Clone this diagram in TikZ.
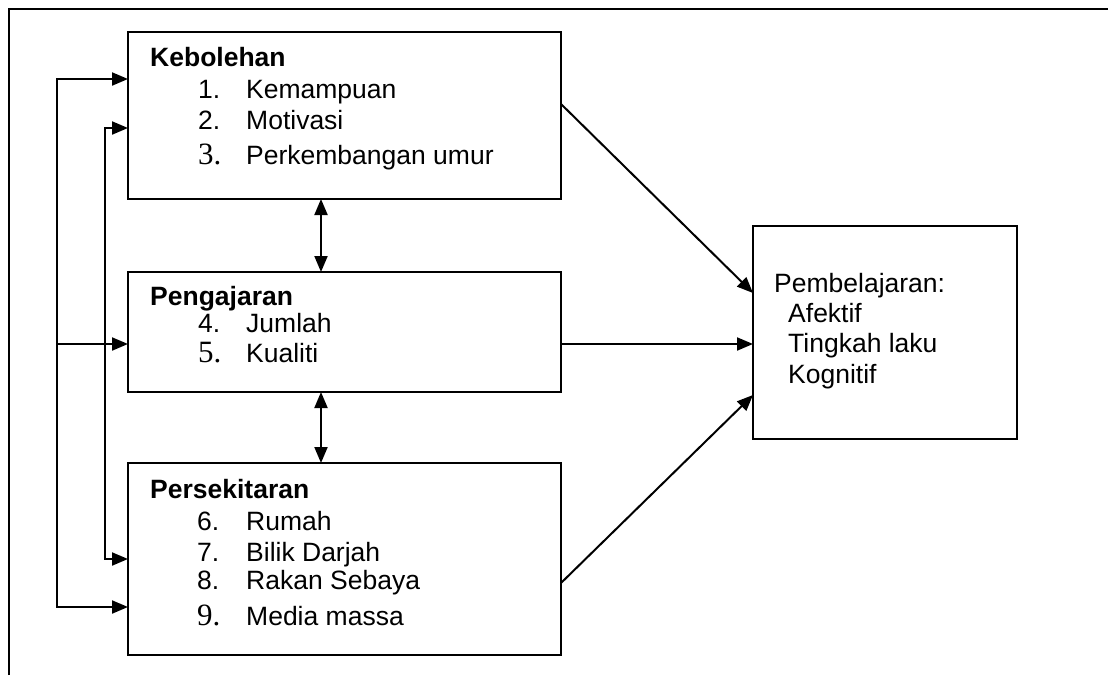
\documentclass[tikz,border=0pt]{standalone}
\usepackage{fontspec}
\setmainfont{Liberation Sans}
\newfontfamily\timesnum{Liberation Serif}
\usetikzlibrary{arrows.meta}

\tikzset{
  box/.style={draw, line width=2pt, anchor=north west, inner sep=0pt, outer sep=0pt},
  txt/.style={anchor=base west, inner sep=0pt, font=\fontsize{26.5}{30}\selectfont},
  head/.style={txt, font=\fontsize{26.5}{30}\selectfont\bfseries},
  serifnum/.style={txt, font=\fontsize{31}{34}\selectfont\timesnum},
  arr/.style={line width=2pt, -{Triangle[length=16pt,width=13pt]}},
  dblarr/.style={line width=2pt, {Triangle[length=16pt,width=13pt]}-{Triangle[length=16pt,width=13pt]}},
}

\begin{document}
\begin{tikzpicture}[x=1pt,y=-1pt]
    \useasboundingbox (0,0) rectangle (1108,675);
    \draw[line width=2pt] (9,675) -- (9,9) -- (1108,9);
    \node[box, minimum width=433pt, minimum height=167pt] (kebolehan) at (128,32) {};
    \node[box, minimum width=433pt, minimum height=120pt] (pengajaran) at (128,272) {};
    \node[box, minimum width=433pt, minimum height=192pt] (persekitaran) at (128,463) {};
    \node[box, minimum width=264pt, minimum height=213pt] (pembelajaran) at (753,226) {};
    \node[head] (kbhead) at (150,66) {Kebolehan};
    \node[txt] (kbnum1) at (198,98) {1.};
    \node[txt] (kbitem1) at (246,98) {Kemampuan};
    \node[txt] (kbnum2) at (198,129) {2.};
    \node[txt] (kbitem2) at (246,129) {Motivasi};
    \node[serifnum] (kbnum3) at (198,164) {3.};
    \node[txt] (kbitem3) at (246,164) {Perkembangan umur};
    \node[head] (pghead) at (150,305) {Pengajaran};
    \node[txt] (pgnum4) at (198,332) {4.};
    \node[txt] (pgitem4) at (246,332) {Jumlah};
    \node[serifnum] (pgnum5) at (198,362) {5.};
    \node[txt] (pgitem5) at (246,362) {Kualiti};
    \node[head] (pshead) at (150,498) {Persekitaran};
    \node[txt] (psnum6) at (197,530) {6.};
    \node[txt] (psitem6) at (246,530) {Rumah};
    \node[txt] (psnum7) at (197,561) {7.};
    \node[txt] (psitem7) at (246,561) {Bilik Darjah};
    \node[txt] (psnum8) at (197,589) {8.};
    \node[txt] (psitem8) at (246,589) {Rakan Sebaya};
    \node[serifnum] (psnum9) at (197,625) {9.};
    \node[txt] (psitem9) at (246,625) {Media massa};
    \node[txt] (pbhead) at (774,292) {Pembelajaran:};
    \node[txt] (pbitem1) at (788,322) {Afektif};
    \node[txt] (pbitem2) at (788,352) {Tingkah laku};
    \node[txt] (pbitem3) at (788,383) {Kognitif};
    \coordinate (outtop) at (57,79);
    \coordinate (outmid) at (57,344);
    \coordinate (outbot) at (57,607);
    \coordinate (intop) at (105,128);
    \coordinate (inbot) at (105,559);
    \coordinate (vline) at (321,0);
    \coordinate (kbout) at (0,104);
    \coordinate (pbintop) at (0,293);
    \coordinate (psout) at (0,583);
    \coordinate (pbinbot) at (0,395);
    \draw[dblarr] (outtop -| kebolehan.west) -- (outtop) -- (outbot) -- (outbot -| persekitaran.west);
    \draw[dblarr] (intop -| kebolehan.west) -- (intop) -- (inbot) -- (inbot -| persekitaran.west);
    \draw[arr] (outmid) -- (outmid -| pengajaran.west);
    \draw[dblarr] (kebolehan.south -| vline) -- (pengajaran.north -| vline);
    \draw[dblarr] (pengajaran.south -| vline) -- (persekitaran.north -| vline);
    \draw[arr] (kebolehan.east |- kbout) -- (pembelajaran.west |- pbintop);
    \draw[arr] (pengajaran.east |- outmid) -- (pembelajaran.west |- outmid);
    \draw[arr] (persekitaran.east |- psout) -- (pembelajaran.west |- pbinbot);
\end{tikzpicture}
\end{document}
